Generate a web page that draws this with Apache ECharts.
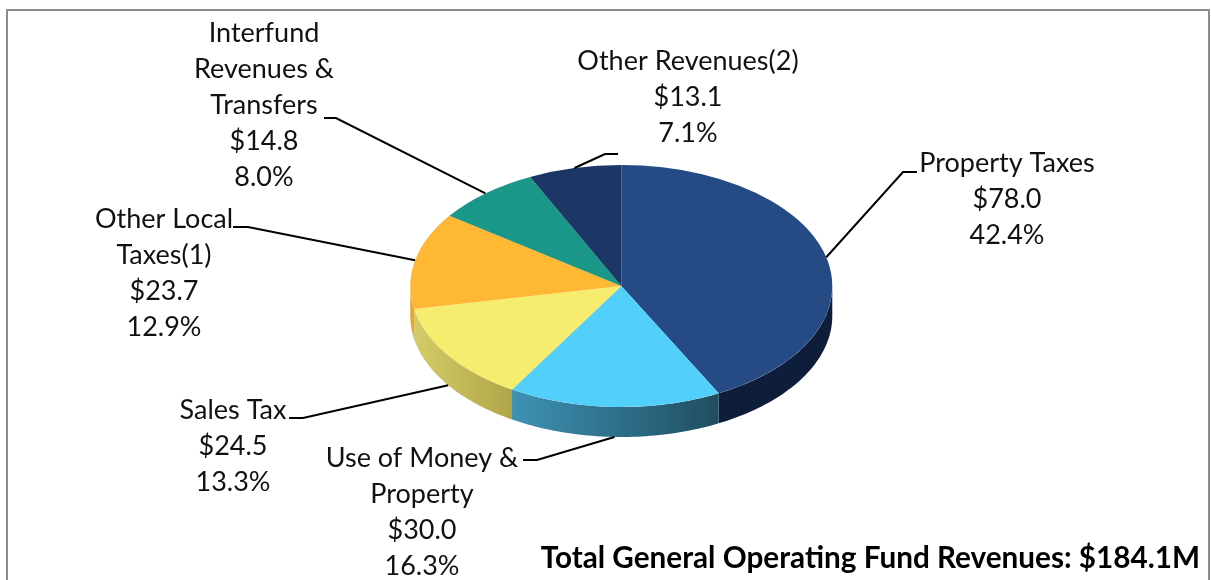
<!DOCTYPE html>
<html>
<head>
<meta charset="utf-8">
<title>General Operating Fund Revenues</title>
<script src="https://cdn.jsdelivr.net/npm/echarts@6/dist/echarts.min.js"></script>
<style>
    html, body { margin: 0; padding: 0; background: #fff; }
    #chart { width: 1211px; height: 580px; }
</style>
</head>
<body>
<div id="chart"></div>
<script>
// values, in drawing order (clockwise from 12 o'clock)
var categories = ['Property Taxes', 'Use of Money &\nProperty', 'Sales Tax', 'Other Local\nTaxes(1)', 'Interfund\nRevenues &\nTransfers', 'Other Revenues(2)'];
var amounts = [78.0, 30.0, 24.5, 23.7, 14.8, 13.1];
var amountLabels = ['$78.0', '$30.0', '$24.5', '$23.7', '$14.8', '$13.1'];
var percentLabels = ['42.4%', '16.3%', '13.3%', '12.9%', '8.0%', '7.1%'];
var totalLabel = 'Total General Operating Fund Revenues: $184.1M';

var topColors = ['#264a83', '#52cffb', '#f6ec6e', '#ffb834', '#1a9788', '#1c3665'];
var sideColors = [
    ['#0d1d3a', '#0d1d3a'],
    ['#3e92b4', '#1f4d60'],
    ['#d4cc68', '#aea648'],
    ['#e6a630', '#e6a630'],
    ['#116258', '#116258'],
    ['#12233f', '#12233f']
];

// pie layout
var cx = 621.3, cy = 286, rx = 211, ry = 121, depth = 30;
// label text: centre x, top y
var labelSpots = [[1007, 145], [422, 440], [233, 392], [164, 201], [264, 15], [688, 43]];
// leader: elbow then end next to the text
var leaderBends = [[[903, 172], [917, 172]], [[537, 460], [523, 460]], [[303, 418], [289, 418]], [[248, 227], [233, 227]], [[336, 118], [324, 118]], [[605, 154], [618, 154]]];

var total = amounts.reduce(function (a, b) { return a + b; }, 0);
var running = 0;
var sliceData = amounts.map(function (v) {
    var row = [running, running + v];
    running += v;
    return row;
});

function edgePoint(frac, drop) {
    var a = frac * Math.PI * 2;
    return [cx + rx * Math.sin(a), cy - ry * Math.cos(a) + drop];
}

// side wall only shows on the front half of the ellipse
function sidePoints(f0, f1) {
    var from = Math.max(f0, 0.25), to = Math.min(f1, 0.75);
    if (to <= from) return null;
    var upper = [], lower = [];
    for (var i = 0; i <= 48; i++) {
        var f = from + (to - from) * i / 48;
        upper.push(edgePoint(f, 0));
        lower.unshift(edgePoint(f, depth));
    }
    return upper.concat(lower);
}

function renderSlice(params, api) {
    var i = params.dataIndex;
    var f0 = api.value(0) / total, f1 = api.value(1) / total;
    var children = [];

    var side = sidePoints(f0, f1);
    if (side) {
        children.push({
            type: 'polygon',
            shape: { points: side },
            style: {
                fill: new echarts.graphic.LinearGradient(0, 0, 1, 0, [
                    { offset: 0, color: sideColors[i][0] },
                    { offset: 1, color: sideColors[i][1] }
                ])
            }
        });
    }

    children.push({
        type: 'group',
        x: cx,
        y: cy,
        scaleY: ry / rx,
        children: [{
            type: 'sector',
            shape: {
                cx: 0, cy: 0, r0: 0, r: rx,
                startAngle: f0 * Math.PI * 2 - Math.PI / 2,
                endAngle: f1 * Math.PI * 2 - Math.PI / 2
            },
            style: { fill: topColors[i] }
        }]
    });

    // leader starts on the mid angle of the slice
    var mid = (f0 + f1) / 2;
    var front = mid > 0.25 && mid < 0.75;
    var start = edgePoint(mid, front ? depth : 0);
    children.push({
        type: 'polyline',
        shape: { points: [start].concat(leaderBends[i]) },
        style: { fill: 'none', stroke: '#000', lineWidth: 2 }
    });

    children.push({
        type: 'text',
        style: {
            text: categories[i] + '\n' + amountLabels[i] + '\n' + percentLabels[i],
            x: labelSpots[i][0],
            y: labelSpots[i][1],
            align: 'center',
            verticalAlign: 'top',
            font: '27px Lato, sans-serif',
            lineHeight: 36,
            fill: '#111'
        }
    });

    return { type: 'group', children: children };
}

var myChart = echarts.init(document.getElementById('chart'), null, { renderer: 'canvas' });
myChart.setOption({
    animation: false,
    backgroundColor: '#fff',
    title: {
        text: totalLabel,
        right: 11,
        top: 543,
        padding: 0,
        textStyle: {
            fontFamily: 'Lato, sans-serif',
            fontSize: 29.7,
            fontWeight: 'bold',
            color: '#000'
        }
    },
    graphic: [{
        type: 'rect',
        shape: { x: 7, y: 10, width: 1202, height: 600 },
        style: { fill: 'none', stroke: '#8c8c8c', lineWidth: 2 },
        z: -1
    }],
    series: [{
        type: 'custom',
        coordinateSystem: 'none',
        renderItem: renderSlice,
        data: sliceData
    }]
});
</script>
</body>
</html>
